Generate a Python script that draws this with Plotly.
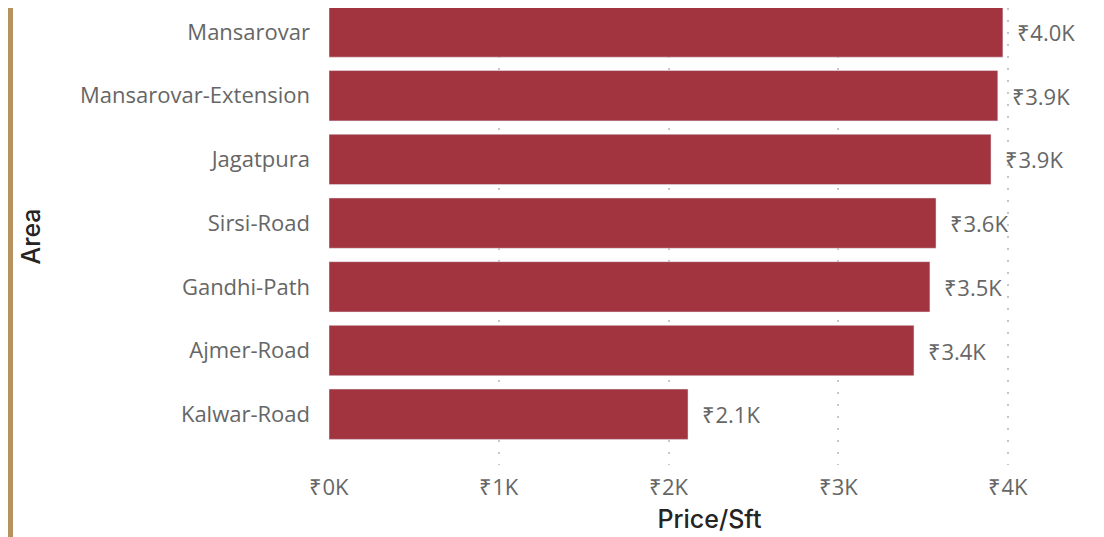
import plotly.graph_objects as go

areas = ["Mansarovar", "Mansarovar-Extension", "Jagatpura", "Sirsi-Road",
         "Gandhi-Path", "Ajmer-Road", "Kalwar-Road"]
price_sft = [3970, 3940, 3900, 3576, 3540, 3446, 2115]
x_ticks = [0, 1000, 2000, 3000, 4000]
x_tick_text = ["₹0K", "₹1K", "₹2K", "₹3K", "₹4K"]

# the page adds an 8px body margin, so the figure is sized to fit inside it
W, H = 1096, 529
ML, MR, MT, MB = 321, 14, 0, 72
PW, PH = W - ML - MR, H - MT - MB


def px_x(p):
    return (p - ML) / PW


def px_y(p):
    return (H - MB - p) / PH


labels = ["\u00a0\u00a0₹{:.1f}K".format(v / 1000) for v in price_sft]

fig = go.Figure(go.Bar(
    x=price_sft,
    y=areas,
    orientation="h",
    marker_color="#A1343F",
    text=labels,
    textposition="outside",
    textfont=dict(family="Open Sans", size=22, color="#666666"),
    constraintext="none",
    cliponaxis=False,
))

shapes = [
    # left-side report decoration strip
    dict(type="rect", xref="paper", yref="paper",
         x0=px_x(0), x1=px_x(5), y0=px_y(H), y1=px_y(0),
         fillcolor="#B5925E", line_width=0, layer="above"),
]

fig.update_layout(
    width=W, height=H,
    margin=dict(l=ML, r=MR, t=MT, b=MB, autoexpand=False),
    plot_bgcolor="white", paper_bgcolor="white",
    bargap=0.21,
    showlegend=False,
    shapes=shapes,
    font=dict(family="Open Sans", color="#666666"),
)
fig.update_xaxes(
    range=[0, 4483],
    tickvals=x_ticks, ticktext=x_tick_text,
    tickfont=dict(size=22, color="#666666"),
    showgrid=True, gridcolor="#C8C8C8", gridwidth=2, griddash="2px,10px",
    zeroline=False, showline=False,
    ticklabelstandoff=7,
    title=dict(text="Price/Sft",
               font=dict(family="Inter", size=25, color="#252423", weight=500),
               standoff=10),
    automargin=False,
)
fig.update_yaxes(
    categoryorder="array", categoryarray=areas,
    range=[6.797, -0.377],
    tickfont=dict(size=22, color="#666666"),
    showgrid=False, zeroline=False, showline=False,
    ticklabelstandoff=18,
    title=dict(text="Area",
               font=dict(family="Inter", size=25, color="#252423", weight=500),
               standoff=32),
    automargin=False,
)

fig.write_html("out.html")
